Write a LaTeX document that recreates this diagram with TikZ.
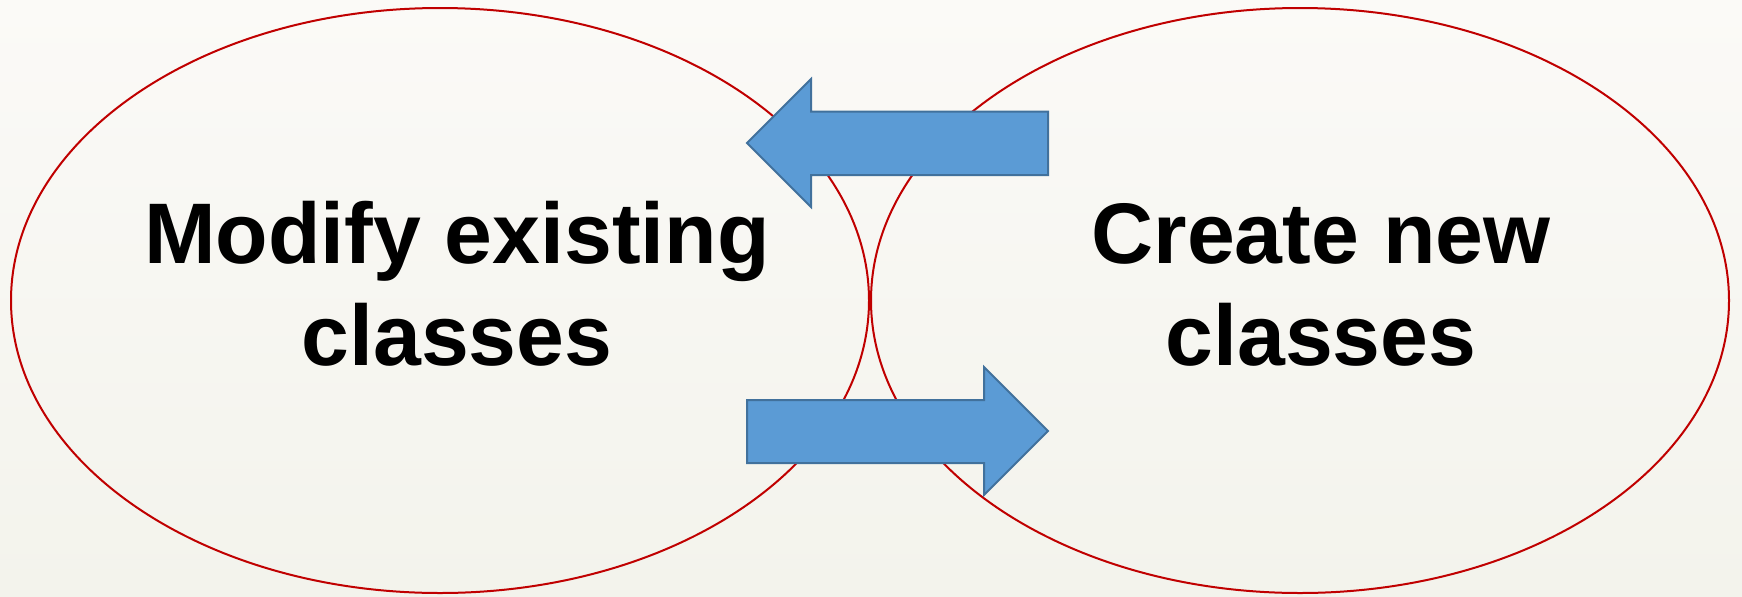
\documentclass[tikz,border=0pt]{standalone}
\usepackage{fontspec}
\setmainfont{Liberation Sans}
\usetikzlibrary{shapes.geometric}
\definecolor{ovalred}{HTML}{C00000}
\definecolor{arrowblue}{HTML}{5B9BD5}
\definecolor{arrowedge}{HTML}{41719C}
\definecolor{bgtop}{HTML}{FBFAF7}
\definecolor{bgbottom}{HTML}{F3F3EC}
\tikzset{
  oval/.style={ellipse, draw=ovalred, line width=1pt, minimum width=429pt, minimum height=292.5pt, inner sep=0pt},
  bigtext/.style={font=\fontsize{43}{51}\selectfont\bfseries, align=center, anchor=base},
  blockarrow/.style={fill=arrowblue, draw=arrowedge, line width=1pt, line join=miter}
}
\begin{document}
\begin{tikzpicture}[x=0.5pt,y=-0.5pt]
\fill[top color=bgtop, bottom color=bgbottom] (0,0) rectangle (1742,596);
\useasboundingbox (0,0) rectangle (1742,596);
% the two ovals
\node[oval] (modify) at (440,300.5) {};
\node[oval] (create) at (1300,300.5) {};
\node[bigtext] (modlabel) at (457,365) {Modify existing\\classes};
\node[bigtext] (crelabel) at (1321,365) {Create new\\classes};
% block arrows
\filldraw[blockarrow] (1048,111.5) -- (811,111.5) -- (811,79) -- (747,143) -- (811,207) -- (811,175) -- (1048,175) -- cycle;
\filldraw[blockarrow] (747,400) -- (984,400) -- (984,367) -- (1048,431) -- (984,495) -- (984,463) -- (747,463) -- cycle;
\end{tikzpicture}
\end{document}
